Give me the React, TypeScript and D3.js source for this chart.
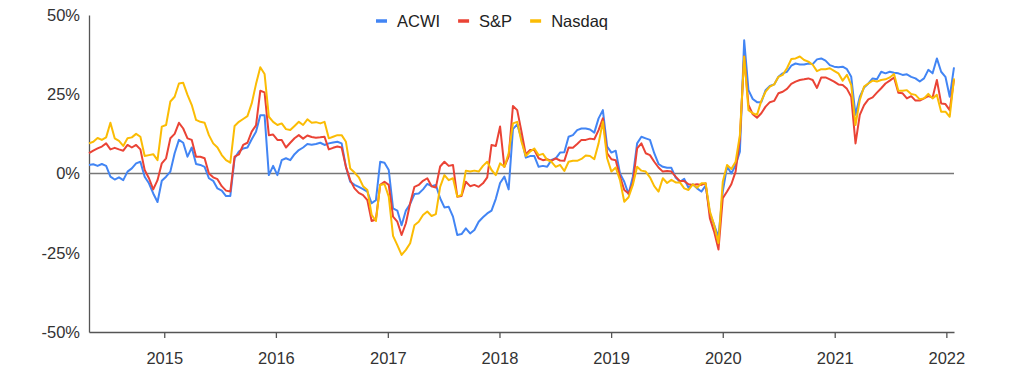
import React, { useEffect, useRef } from "react";
import * as d3 from "d3";

// fortnightly observations, first one at the end of April 2014
const startDate = new Date(2014, 3, 30);
const stepDays = 14;

const seriesNames = ["ACWI", "S&P", "Nasdaq"];
const seriesColors = ["#4285F4", "#EA4335", "#FBBC04"];

const yTicks = [-50, -25, 0, 25, 50];
const xTickYears = [2015, 2016, 2017, 2018, 2019, 2020, 2021, 2022];

const acwi = [
  2.7, 2.9, 2.4, 3.0, 2.4, -1.0, -1.9, -1.2, -2.1, 0.6, 1.6, 3.2, 3.7, -1.0, -3.1, -6.3, -9.0, -2.3, -1.0, 0.6,
  6.4, 10.6, 9.7, 5.3, 8.2, 3.0, 2.7, 2.1, -1.5, -2.3, -4.7, -5.4, -7.1, -7.1, 4.8, 6.9, 7.9, 8.2, 10.8, 13.2,
  18.4, 18.4, -0.5, 2.4, -0.5, 4.2, 4.8, 4.2, 6.1, 7.4, 8.2, 9.3, 9.1, 9.3, 9.7, 9.0, 9.5, 9.8, 10.0, 9.5,
  2.1, -2.6, -3.6, -4.2, -4.9, -5.7, -9.4, -8.4, 3.7, 3.4, 1.1, -11.0, -11.7, -16.3, -11.7, -9.6, -6.5, -6.3, -5.0, -3.3,
  -4.0, -3.6, -7.8, -10.7, -10.5, -13.6, -19.4, -19.1, -17.3, -18.9, -17.8, -15.2, -13.8, -12.6, -11.7, -8.0, -3.0, -1.0, -5.0, 14.0,
  15.5, 11.0, 5.0, 5.5, 5.5, 2.1, 2.4, 2.1, 4.3, 4.8, 6.6, 6.7, 11.6, 12.1, 13.7, 14.2, 14.2, 13.9, 12.9, 17.4,
  20.0, 8.5, 6.6, 7.2, 0.0, -2.6, -6.5, -1.0, 9.5, 11.6, 11.1, 10.6, 6.4, 3.0, 2.1, 1.8, 1.8, -1.3, -2.6, -1.7,
  -4.5, -3.4, -4.7, -5.7, -3.8, -12.6, -16.3, -20.0, -5.7, 2.2, 0.0, 2.7, 6.9, 42.0, 26.3, 23.5, 22.5, 22.5, 26.3, 27.6,
  28.1, 30.5, 31.6, 32.1, 34.0, 34.7, 34.4, 34.4, 34.7, 34.5, 36.0, 36.3, 35.6, 34.2, 33.7, 33.5, 33.7, 32.9, 30.5, 18.5,
  24.2, 27.1, 28.4, 30.0, 29.7, 32.1, 31.6, 32.1, 31.8, 31.6, 31.1, 31.3, 30.5, 30.0, 29.0, 30.0, 32.7, 31.6, 36.3, 32.1,
  30.5, 24.2, 33.5,
];

const sp = [
  6.4, 7.2, 7.9, 8.5, 9.5, 7.6, 8.1, 7.6, 7.2, 9.0, 8.2, 9.0, 7.6, 1.1, -1.5, -5.0, -2.1, 3.2, 4.8, 11.1,
  12.5, 16.0, 14.2, 11.1, 10.6, 5.3, 5.3, 4.8, 0.0, -1.2, -1.8, -4.0, -5.4, -5.7, 5.3, 6.0, 9.0, 9.7, 13.2, 15.2,
  26.1, 25.6, 12.1, 12.3, 10.6, 10.6, 8.2, 9.7, 11.1, 12.1, 11.0, 12.0, 11.5, 11.3, 11.4, 11.6, 7.6, 8.1, 8.5, 8.2,
  2.1, -2.1, -4.7, -6.1, -6.8, -8.4, -15.0, -14.5, -3.6, -2.6, -3.6, -13.6, -15.2, -19.4, -15.7, -9.4, -4.2, -3.6, -2.3, -1.5,
  -4.0, -4.4, 2.2, 3.7, 2.4, 2.7, -7.3, -7.1, -2.6, -4.0, -3.6, -4.2, -3.1, -1.2, 9.0, 8.7, 14.8, 2.1, 5.3, 21.3,
  20.0, 13.2, 6.0, 7.4, 7.4, 4.8, 4.2, 4.5, 4.0, 4.8, 4.1, 4.0, 8.2, 8.1, 9.3, 10.6, 10.6, 11.0, 10.8, 13.7,
  17.4, 6.4, 4.5, 4.2, -1.0, -5.2, -6.3, -3.1, 7.9, 9.5, 6.4, 5.8, 3.7, 1.9, 0.6, 0.8, 0.6, -1.0, -2.4, -2.4,
  -3.4, -3.6, -3.4, -3.6, -3.1, -14.2, -18.4, -24.0, -7.8, -5.7, -3.4, 0.6, 11.1, 36.9, 21.6, 18.7, 17.6, 19.0, 21.1, 22.5,
  22.9, 25.3, 25.8, 26.7, 28.3, 29.0, 29.5, 29.7, 30.0, 29.5, 27.0, 30.3, 30.3, 29.7, 29.0, 28.1, 27.9, 26.7, 24.2, 9.5,
  18.5, 21.6, 23.4, 24.0, 25.5, 26.9, 28.4, 29.3, 30.3, 25.5, 25.3, 23.7, 24.4, 23.0, 23.0, 23.7, 24.4, 24.0, 29.5, 22.1,
  21.9, 20.0, 29.7,
];

const nasdaq = [
  9.5, 10.0, 11.2, 10.6, 11.4, 16.0, 11.1, 10.3, 8.7, 11.1, 11.4, 12.5, 11.6, 5.5, 5.8, 6.1, 4.2, 14.8, 15.3, 22.7,
  24.2, 28.4, 28.6, 24.8, 21.6, 16.9, 16.3, 16.0, 12.1, 9.5, 8.2, 5.8, 4.2, 3.4, 15.0, 16.3, 17.2, 18.1, 22.1, 28.2,
  33.5, 31.4, 17.9, 16.3, 15.3, 15.8, 14.0, 13.7, 15.0, 16.3, 15.3, 17.1, 16.0, 16.2, 15.8, 16.3, 11.1, 11.6, 12.1, 12.1,
  10.0, 1.6, 0.3, -1.2, -4.0, -5.2, -13.0, -15.0, -3.6, -3.3, -7.3, -19.7, -22.6, -25.7, -24.1, -22.0, -16.3, -15.2, -13.1, -12.0,
  -13.4, -12.8, -4.2, -0.5, -2.1, -1.5, -7.3, -6.8, 0.9, 0.6, 0.9, 0.6, 2.4, 3.7, 1.1, -0.5, 3.2, 2.1, 6.4, 15.8,
  16.3, 10.0, 5.5, 6.9, 7.9, 5.8, 6.2, 4.3, 3.7, 2.1, 2.7, 0.8, 3.7, 4.0, 4.0, 4.6, 5.7, 5.5, 4.5, 9.5,
  16.4, 4.8, 0.6, 1.9, -2.1, -8.9, -7.5, -3.6, 2.1, 0.9, 0.6, -1.2, -4.0, -5.7, -1.5, -3.0, -2.0, -2.8, -2.8, -4.7,
  -5.2, -3.4, -4.5, -3.1, -3.1, -12.0, -16.3, -22.0, -2.6, 2.7, 1.4, 3.7, 12.1, 36.9, 20.0, 19.0, 18.5, 22.9, 25.8, 27.4,
  28.1, 30.5, 31.1, 33.2, 36.1, 36.3, 36.9, 35.8, 35.3, 34.3, 32.3, 32.9, 32.9, 33.2, 32.4, 31.6, 29.3, 31.1, 27.9, 15.3,
  23.2, 27.4, 28.4, 29.3, 29.0, 29.5, 29.7, 30.3, 31.4, 26.1, 26.1, 26.3, 25.1, 24.8, 23.4, 23.7, 25.1, 23.7, 24.8, 19.5,
  19.5, 17.9, 30.0,
];

const seriesValues = [acwi, sp, nasdaq];

const width = 1024;
const height = 391;
const font = "'Liberation Sans', Arial, sans-serif";

export default function App() {
  const svgRef = useRef<SVGSVGElement>(null);

  useEffect(() => {
    const svg = d3.select(svgRef.current);
    svg.selectAll("*").remove();

    const margin = { top: 15, right: 70, bottom: 59, left: 89 };
    const innerWidth = width - margin.left - margin.right;
    const innerHeight = height - margin.top - margin.bottom;

    const dates = acwi.map((_, i) => d3.timeDay.offset(startDate, i * stepDays));

    const xScale = d3
      .scaleTime()
      .domain([dates[0], dates[dates.length - 1]])
      .range([0, innerWidth]);

    const yScale = d3.scaleLinear().domain([-50, 50]).range([innerHeight, 0]);

    const g = svg
      .append("g")
      .attr("transform", `translate(${margin.left},${margin.top})`);

    // y axis
    const yAxis = d3
      .axisLeft(yScale)
      .tickValues(yTicks)
      .tickSize(0)
      .tickPadding(9)
      .tickFormat((d) => `${d}%`);
    const yg = g.append("g").call(yAxis);
    yg.select(".domain").attr("stroke", "#555").attr("stroke-width", 1.3);
    yg.selectAll("text")
      .attr("font-family", font)
      .attr("font-size", 16.5)
      .attr("fill", "#333");

    // x axis
    const xAxis = d3
      .axisBottom(xScale)
      .tickValues(xTickYears.map((y) => new Date(y, 0, 1)))
      .tickSize(6)
      .tickSizeOuter(0)
      .tickPadding(14)
      .tickFormat((d) => d3.timeFormat("%Y")(d as Date));
    const xg = g
      .append("g")
      .attr("transform", `translate(0,${innerHeight})`)
      .call(xAxis);
    xg.select(".domain").attr("stroke", "#555").attr("stroke-width", 1.3);
    xg.selectAll(".tick line").attr("stroke", "#555").attr("stroke-width", 1.3);
    xg.selectAll("text")
      .attr("font-family", font)
      .attr("font-size", 16.5)
      .attr("fill", "#333");

    // zero baseline
    g.append("line")
      .attr("x1", 0)
      .attr("x2", innerWidth)
      .attr("y1", yScale(0))
      .attr("y2", yScale(0))
      .attr("stroke", "#777")
      .attr("stroke-width", 1.3);

    const line = d3
      .line<number>()
      .x((_, i) => xScale(dates[i]))
      .y((d) => yScale(d));

    seriesValues.forEach((values, k) => {
      g.append("path")
        .datum(values)
        .attr("fill", "none")
        .attr("stroke", seriesColors[k])
        .attr("stroke-width", 2)
        .attr("stroke-linejoin", "round")
        .attr("d", line);
    });

    // legend
    const legend = svg.append("g").attr("transform", "translate(376,21)");
    let offset = 0;
    seriesNames.forEach((name, k) => {
      const item = legend.append("g").attr("transform", `translate(${offset},0)`);
      item
        .append("line")
        .attr("x1", 0)
        .attr("x2", 11)
        .attr("stroke", seriesColors[k])
        .attr("stroke-width", 3.5);
      const text = item
        .append("text")
        .attr("x", 21)
        .attr("dy", "0.36em")
        .attr("font-family", font)
        .attr("font-size", 16.5)
        .attr("fill", "#222")
        .text(name);
      const w = (text.node() as SVGTextElement).getComputedTextLength();
      offset += 21 + w + 18;
    });
  }, []);

  return (
    <svg
      ref={svgRef}
      width={width}
      height={height}
      style={{ position: "absolute", left: 0, top: 0, background: "#fff" }}
    />
  );
}
